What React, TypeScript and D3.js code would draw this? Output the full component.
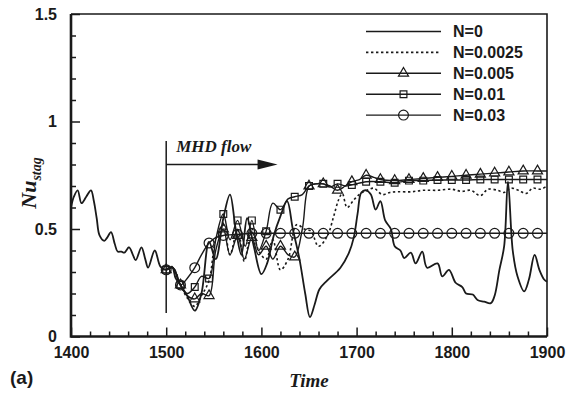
import { useEffect, useRef } from 'react'
import * as d3 from 'd3'

// N=0 (no magnetic field), runs over the whole window
const timeN0 = [1400, 1403, 1407, 1411, 1416, 1421, 1424, 1427, 1430, 1435, 1438, 1442, 1446, 1449, 1453, 1456, 1461, 1465, 1468, 1474, 1478, 1481, 1488, 1494, 1500, 1506, 1510, 1515, 1522, 1530, 1537, 1545, 1552, 1560, 1567, 1573, 1579, 1585, 1592, 1600, 1606, 1613, 1620, 1627, 1633, 1640, 1646, 1651, 1656, 1661, 1669, 1683, 1692, 1697, 1701, 1705, 1710, 1715, 1720, 1725, 1730, 1736, 1740, 1746, 1750, 1757, 1762, 1769, 1774, 1785, 1790, 1797, 1804, 1811, 1815, 1822, 1827, 1834, 1841, 1845, 1850, 1855, 1859, 1864, 1869, 1876, 1881, 1887, 1892, 1897, 1900]
const nuN0 = [0.6, 0.65, 0.68, 0.62, 0.65, 0.68, 0.63, 0.55, 0.47, 0.445, 0.46, 0.485, 0.43, 0.395, 0.395, 0.39, 0.415, 0.38, 0.355, 0.415, 0.36, 0.32, 0.4, 0.325, 0.31, 0.325, 0.27, 0.24, 0.19, 0.12, 0.2, 0.44, 0.36, 0.55, 0.66, 0.5, 0.38, 0.55, 0.42, 0.29, 0.34, 0.47, 0.56, 0.63, 0.5, 0.36, 0.2, 0.09, 0.15, 0.22, 0.26, 0.32, 0.39, 0.46, 0.57, 0.67, 0.68, 0.66, 0.59, 0.63, 0.54, 0.5, 0.42, 0.4, 0.365, 0.39, 0.34, 0.395, 0.32, 0.34, 0.28, 0.31, 0.25, 0.23, 0.2, 0.195, 0.17, 0.162, 0.155, 0.19, 0.31, 0.42, 0.72, 0.4, 0.28, 0.21, 0.265, 0.38, 0.31, 0.265, 0.255]

// N=0.0025 (dotted)
const timeN1 = [1500, 1507, 1515, 1522, 1530, 1537, 1545, 1552, 1560, 1567, 1575, 1582, 1590, 1597, 1605, 1612, 1620, 1628, 1637, 1645, 1652, 1660, 1669, 1676, 1681, 1685, 1690, 1697, 1704, 1711, 1718, 1727, 1735, 1743, 1757, 1770, 1785, 1800, 1810, 1820, 1830, 1838, 1848, 1855, 1862, 1870, 1878, 1885, 1893, 1900]
const nuN1 = [0.31, 0.32, 0.24, 0.18, 0.14, 0.19, 0.26, 0.45, 0.52, 0.38, 0.5, 0.35, 0.5, 0.4, 0.36, 0.45, 0.31, 0.36, 0.52, 0.5, 0.49, 0.42, 0.465, 0.56, 0.635, 0.665, 0.6, 0.635, 0.665, 0.68, 0.69, 0.66, 0.67, 0.673, 0.673, 0.68, 0.68, 0.685, 0.675, 0.68, 0.655, 0.685, 0.68, 0.67, 0.69, 0.68, 0.665, 0.69, 0.685, 0.7]

// N=0.005 (triangles)
const timeN2 = [1500, 1507, 1515, 1522, 1530, 1537, 1545, 1552, 1560, 1567, 1575, 1582, 1590, 1597, 1605, 1612, 1620, 1628, 1635, 1643, 1650, 1657, 1665, 1672, 1680, 1688, 1695, 1703, 1710, 1718, 1725, 1740, 1755, 1770, 1785, 1800, 1815, 1830, 1845, 1860, 1875, 1890, 1900]
const nuN2 = [0.31, 0.32, 0.24, 0.19, 0.175, 0.2, 0.19, 0.4, 0.5, 0.38, 0.47, 0.36, 0.46, 0.38, 0.42, 0.36, 0.42, 0.38, 0.37, 0.5, 0.7, 0.71, 0.71, 0.7, 0.68, 0.7, 0.72, 0.73, 0.75, 0.74, 0.73, 0.725, 0.73, 0.735, 0.74, 0.745, 0.75, 0.755, 0.76, 0.765, 0.77, 0.77, 0.77]

// N=0.01 (squares)
const timeN3 = [1500, 1507, 1515, 1522, 1530, 1537, 1545, 1552, 1560, 1567, 1575, 1583, 1590, 1597, 1605, 1612, 1620, 1628, 1635, 1643, 1650, 1657, 1665, 1672, 1680, 1688, 1695, 1710, 1725, 1740, 1755, 1770, 1785, 1800, 1815, 1830, 1845, 1860, 1875, 1890, 1900]
const nuN3 = [0.31, 0.32, 0.24, 0.2, 0.23, 0.28, 0.27, 0.45, 0.57, 0.45, 0.54, 0.42, 0.54, 0.4, 0.49, 0.62, 0.59, 0.64, 0.65, 0.66, 0.7, 0.71, 0.71, 0.695, 0.71, 0.7, 0.705, 0.72, 0.72, 0.715, 0.725, 0.725, 0.728, 0.728, 0.728, 0.73, 0.73, 0.73, 0.73, 0.73, 0.73]

// N=0.03 (circles)
const timeN4 = [1500, 1507, 1515, 1522, 1530, 1537, 1545, 1552, 1560, 1575, 1590, 1605, 1620, 1635, 1650, 1665, 1680, 1695, 1710, 1725, 1740, 1755, 1770, 1785, 1800, 1815, 1830, 1845, 1860, 1875, 1890, 1900]
const nuN4 = [0.31, 0.32, 0.24, 0.27, 0.32, 0.38, 0.435, 0.46, 0.47, 0.475, 0.48, 0.48, 0.48, 0.48, 0.48, 0.48, 0.48, 0.48, 0.48, 0.48, 0.48, 0.48, 0.48, 0.48, 0.48, 0.48, 0.48, 0.48, 0.48, 0.48, 0.48, 0.48]

const labels = ['N=0', 'N=0.0025', 'N=0.005', 'N=0.01', 'N=0.03']

const xMajor = [1400, 1500, 1600, 1700, 1800, 1900]
const xMinor = [1420, 1440, 1460, 1480, 1520, 1540, 1560, 1580, 1620, 1640, 1660, 1680, 1720, 1740, 1760, 1780, 1820, 1840, 1860, 1880]
const yMajor = [0, 0.5, 1, 1.5]
const yMinor = [0.1, 0.2, 0.3, 0.4, 0.6, 0.7, 0.8, 0.9, 1.1, 1.2, 1.3, 1.4]

// MHD switch-on time and end of the arrow
const mhdStart = 1500
const arrowEnd = 1617

const SANS = '"Liberation Sans", Arial, sans-serif'
const SERIF = '"Liberation Serif", "Times New Roman", serif'

const App = () => {
	const svgRef = useRef(null)

	useEffect(() => {
		const W = 578
		const H = 393
		const left = 71
		const right = 547
		const top = 14
		const bottom = 336.5
		const ink = '#1a1a1a'

		const svg = d3.select(svgRef.current)
		svg.selectAll('*').remove()
		svg.attr('width', W).attr('height', H)

		const x = d3.scaleLinear().domain([1400, 1900]).range([left, right])
		const y = d3.scaleLinear().domain([0, 1.5]).range([bottom, top])

		const series = [
			{ t: timeN0, v: nuN0, dash: null, marker: null, width: 1.8 },
			{ t: timeN1, v: nuN1, dash: '2.4,2.6', marker: null, width: 1.6 },
			{ t: timeN2, v: nuN2, dash: null, marker: d3.symbolTriangle, size: 44, width: 1.4 },
			{ t: timeN3, v: nuN3, dash: null, marker: d3.symbolSquare, size: 46, width: 1.4 },
			{ t: timeN4, v: nuN4, dash: null, marker: d3.symbolCircle, size: 76, width: 1.4 },
		]

		const line = d3
			.line()
			.x((d) => x(d[0]))
			.y((d) => y(d[1]))
			.curve(d3.curveCatmullRom.alpha(0.5))

		const plot = svg.append('g')

		// draw from last to first so N=0 stays on top
		series
			.slice()
			.reverse()
			.forEach((s) => {
				const pts = s.t.map((t, i) => [t, s.v[i]])
				plot
					.append('path')
					.attr('d', line(pts))
					.attr('fill', 'none')
					.attr('stroke', ink)
					.attr('stroke-width', s.width)
					.attr('stroke-dasharray', s.dash)
				if (s.marker) {
					const sym = d3.symbol().type(s.marker).size(s.size)
					plot
						.selectAll(null)
						.data(pts.filter((p) => (p[0] - 1500) % 15 === 0 && p[0] < 1900))
						.enter()
						.append('path')
						.attr('d', sym)
						.attr('transform', (p) => `translate(${x(p[0])},${y(p[1])})`)
						.attr('fill', 'none')
						.attr('stroke', ink)
						.attr('stroke-width', 1.2)
				}
			})

		// MHD annotation
		svg
			.append('line')
			.attr('x1', x(mhdStart))
			.attr('x2', x(mhdStart))
			.attr('y1', 141)
			.attr('y2', 313)
			.attr('stroke', ink)
			.attr('stroke-width', 1.5)
		svg
			.append('line')
			.attr('x1', x(mhdStart))
			.attr('x2', x(arrowEnd) - 16)
			.attr('y1', 164.5)
			.attr('y2', 164.5)
			.attr('stroke', ink)
			.attr('stroke-width', 1.5)
		svg
			.append('path')
			.attr(
				'd',
				`M${x(arrowEnd)},164.5 L${x(arrowEnd) - 20},159.5 L${x(arrowEnd) - 20},169.5 Z`
			)
			.attr('fill', ink)
		svg
			.append('text')
			.attr('x', x(mhdStart) + 10)
			.attr('y', 152)
			.style('font-family', SERIF)
			.style('font-weight', 'bold')
			.style('font-style', 'italic')
			.style('font-size', '17px')
			.style('fill', ink)
			.text('MHD flow')

		// ticks, pointing inwards (minor ticks in their own groups)
		svg
			.append('g')
			.attr('transform', `translate(0,${bottom})`)
			.call(d3.axisBottom(x).tickValues(xMinor).tickSize(-5).tickFormat(() => ''))
		svg
			.append('g')
			.attr('transform', `translate(0,${bottom})`)
			.call(d3.axisBottom(x).tickValues(xMajor).tickSize(-9).tickPadding(10).tickFormat(d3.format('d')))
		svg
			.append('g')
			.attr('transform', `translate(${left},0)`)
			.call(d3.axisLeft(y).tickValues(yMinor).tickSize(-5).tickFormat(() => ''))
		svg
			.append('g')
			.attr('transform', `translate(${left},0)`)
			.call(d3.axisLeft(y).tickValues(yMajor).tickSize(-9).tickPadding(14).tickFormat((d) => String(d)))
		svg.selectAll('.domain').remove()
		svg.selectAll('.tick line').attr('stroke', ink).attr('stroke-width', 1.5)
		svg
			.selectAll('.tick text')
			.style('font-family', SANS)
			.style('font-weight', 'bold')
			.style('font-size', '16px')
			.style('fill', ink)

		// frame
		svg
			.append('path')
			.attr('d', `M${left},${top} H${right} V${bottom}`)
			.attr('fill', 'none')
			.attr('stroke', ink)
			.attr('stroke-width', 1.6)
		svg
			.append('path')
			.attr('d', `M${left},${top} V${bottom} H${right}`)
			.attr('fill', 'none')
			.attr('stroke', ink)
			.attr('stroke-width', 2.6)

		// legend
		const legend = svg.append('g')
		labels.forEach((lab, i) => {
			const ly = 31.5 + i * 20.9
			const s = series[i]
			legend
				.append('line')
				.attr('x1', 366)
				.attr('x2', 441)
				.attr('y1', ly)
				.attr('y2', ly)
				.attr('stroke', ink)
				.attr('stroke-width', s.dash ? 1.6 : 1.4)
				.attr('stroke-dasharray', s.dash)
			if (s.marker) {
				legend
					.append('path')
					.attr('d', d3.symbol().type(s.marker).size(s.size)())
					.attr('transform', `translate(403.5,${ly})`)
					.attr('fill', 'none')
					.attr('stroke', ink)
					.attr('stroke-width', 1.2)
			}
			legend
				.append('text')
				.attr('x', 453)
				.attr('y', ly)
				.attr('dy', '0.36em')
				.style('font-family', SANS)
				.style('font-weight', 'bold')
				.style('font-size', '16px')
				.style('fill', ink)
				.text(lab)
		})

		// axis titles
		const yTitle = svg
			.append('text')
			.attr('transform', 'translate(36,183) rotate(-90)')
			.attr('text-anchor', 'middle')
			.style('font-family', SERIF)
			.style('font-weight', 'bold')
			.style('font-style', 'italic')
			.style('fill', ink)
		yTitle.append('tspan').style('font-size', '22px').text('Nu')
		yTitle.append('tspan').style('font-size', '14px').attr('dy', 5).text('stag')

		svg
			.append('text')
			.attr('x', (left + right) / 2)
			.attr('y', 387)
			.attr('text-anchor', 'middle')
			.style('font-family', SERIF)
			.style('font-weight', 'bold')
			.style('font-style', 'italic')
			.style('font-size', '19px')
			.style('fill', ink)
			.text('Time')

		svg
			.append('text')
			.attr('x', 10)
			.attr('y', 384)
			.style('font-family', SANS)
			.style('font-weight', 'bold')
			.style('font-size', '19px')
			.style('fill', ink)
			.text('(a)')
	}, [])

	return <svg ref={svgRef} style={{ position: 'absolute', left: 0, top: 0 }}></svg>
}

export default App
